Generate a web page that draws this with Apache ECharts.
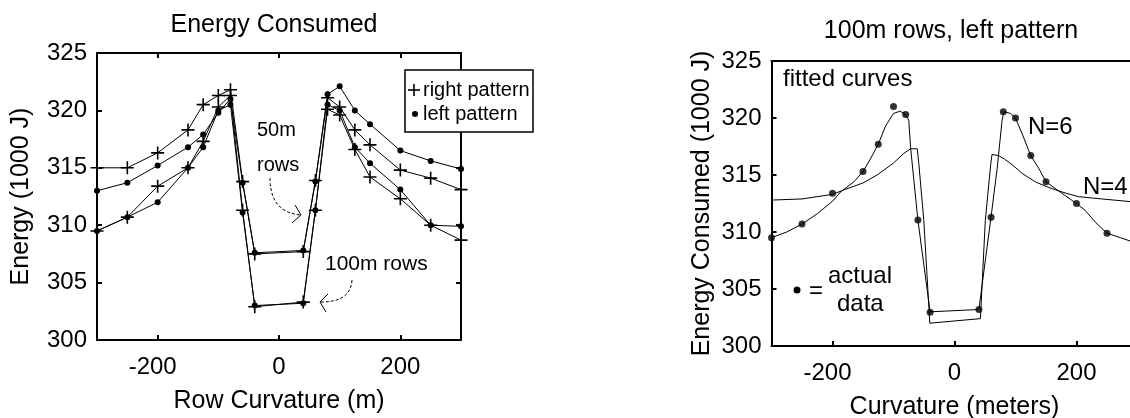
<!DOCTYPE html>
<html>
<head>
<meta charset="utf-8">
<script src="https://cdn.jsdelivr.net/npm/echarts@6/dist/echarts.min.js"></script>
<style>
  html, body { margin: 0; padding: 0; background: #fff; }
  #chart { width: 1130px; height: 418px; }
</style>
</head>
<body>
<div id="chart"></div>
<script>
// Row curvature values (m) at which energy was measured
const curvature = [-300, -250, -200, -150, -125, -100, -80, -60, -40, 40, 60, 80, 100, 125, 150, 200, 250, 300];

// Energy consumed (1000 J), left panel
const right50  = [315.0, 315.0, 316.3, 318.3, 320.5, 321.3, 321.8, 313.8, 307.5, 307.7, 313.9, 321.1, 320.3, 318.3, 317.0, 314.8, 314.1, 313.1];
const left50   = [313.0, 313.7, 315.2, 316.8, 317.9, 319.8, 321.0, 313.7, 307.6, 307.8, 313.8, 321.4, 322.1, 320.0, 318.8, 316.5, 315.6, 314.9];
const right100 = [309.5, 310.7, 313.4, 315.0, 317.3, 320.3, 321.3, 311.3, 302.9, 303.3, 311.3, 320.1, 319.6, 316.6, 314.2, 312.3, 310.0, 308.7];
const left100  = [309.5, 310.7, 312.0, 315.0, 316.8, 320.0, 320.5, 311.1, 303.0, 303.2, 311.3, 320.5, 320.0, 316.8, 315.4, 313.1, 310.0, 309.9];

// Right panel: 100m rows, left pattern (measured)
const actualData = [309.5, 310.7, 313.4, 315.3, 317.7, 321.0, 320.3, 311.05, 302.95, 303.2, 311.3, 320.55, 320.0, 316.7, 314.4, 312.5, 309.9, 308.9];

// Fitted curve, N=6
const fit6X = [-300, -275, -250, -225, -200, -187, -165, -150, -138, -125, -113, -100, -89, -80, -75, -72, -60, -40,
               40, 50, 60, 70, 78, 81, 92, 100, 111, 125, 138, 150, 176, 200, 214, 232, 250, 272, 291, 300];
const fit6Y = [309.5, 310.0, 310.7, 311.6, 312.7, 313.5, 314.4, 315.3, 316.4, 317.7, 319.3, 320.4, 320.6, 320.3, 319.8, 317.4, 311.05, 303.0,
               303.2, 307.3, 311.35, 315.6, 319.8, 320.55, 320.4, 320.0, 318.6, 316.7, 315.6, 314.4, 313.4, 312.5, 311.9, 310.8, 309.9, 309.5, 309.15, 309.0];

// Fitted curve, N=4
const fit4X = [-300, -250, -200, -181, -150, -127, -101, -83, -72, -61, -58.5, -50.3, -42, -40.5,
               42.5, 50.5, 59.5, 61.5, 72.5, 82, 94.5, 112, 132.5, 150, 165.5, 183, 203.5, 241.5, 291.5, 300];
const fit4Y = [312.8, 312.9, 313.3, 313.7, 314.3, 315.0, 316.0, 316.9, 317.3, 317.3, 316.0, 311.0, 303.4, 302.0,
               302.4, 311.0, 316.0, 316.8, 316.7, 316.4, 315.9, 315.1, 314.4, 314.0, 313.7, 313.4, 313.1, 312.9, 312.65, 312.6];

// Axis ticks
const xTicks = [-200, 0, 200];
const yMin = 300, yMax = 325, yStep = 5;

const FONT = '"Liberation Sans", Arial, Helvetica, sans-serif';
const PLUS = 'path://M5.7,0h1.6v5.7h5.7v1.6h-5.7v5.7h-1.6v-5.7h-5.7v-1.6h5.7z';

const zip = (xs, ys) => xs.map((x, i) => [x, ys[i]]);

const chart = echarts.init(document.getElementById('chart'), null, { renderer: 'canvas' });

function xAxisBottom(grid, name, nameGap) {
  return {
    type: 'value', gridIndex: grid, position: 'bottom', min: -300, max: 300,
    axisLine: { show: true, onZero: false, lineStyle: { color: '#000', width: 2 } },
    axisTick: { show: true, inside: true, length: 5, customValues: xTicks, lineStyle: { color: '#000', width: 2 } },
    axisLabel: {
      show: true, customValues: xTicks, margin: 15, color: '#000', fontSize: 24, fontFamily: FONT,
      formatter: v => (v < 0 ? '{neg|' + v + '}' : '' + v),
      rich: { neg: { padding: [0, 10, 0, 0], fontSize: 24, fontFamily: FONT, color: '#000' } }
    },
    splitLine: { show: false },
    name: name, nameLocation: 'middle', nameGap: nameGap,
    nameTextStyle: { color: '#000', fontSize: 25, fontFamily: FONT, verticalAlign: 'top' }
  };
}
function xAxisTop(grid, ticks) {
  return {
    type: 'value', gridIndex: grid, position: 'top', min: -300, max: 300,
    axisLine: { show: true, onZero: false, lineStyle: { color: '#000', width: 2 } },
    axisTick: { show: ticks, inside: true, length: 5, customValues: xTicks, lineStyle: { color: '#000', width: 2 } },
    axisLabel: { show: false }, splitLine: { show: false }
  };
}
function yAxisLeft(grid, name, nameGap) {
  return {
    type: 'value', gridIndex: grid, position: 'left', min: yMin, max: yMax, interval: yStep,
    axisLine: { show: true, onZero: false, lineStyle: { color: '#000', width: 2 } },
    axisTick: { show: true, inside: true, length: 5, lineStyle: { color: '#000', width: 2 } },
    axisLabel: { show: true, margin: 10, color: '#000', fontSize: 24, fontFamily: FONT },
    splitLine: { show: false },
    name: name, nameLocation: 'middle', nameGap: nameGap,
    nameTextStyle: { color: '#000', fontSize: 25, fontFamily: FONT }
  };
}
function yAxisRight(grid) {
  return {
    type: 'value', gridIndex: grid, position: 'right', min: yMin, max: yMax, interval: yStep,
    axisLine: { show: true, onZero: false, lineStyle: { color: '#000', width: 2 } },
    axisTick: { show: true, inside: true, length: 5, lineStyle: { color: '#000', width: 2 } },
    axisLabel: { show: false }, splitLine: { show: false }
  };
}

function lineSeries(xi, yi, data, symbol, size, z) {
  return {
    type: 'line', xAxisIndex: xi, yAxisIndex: yi, data: data,
    symbol: symbol, symbolSize: size, showSymbol: symbol !== 'none', showAllSymbol: true,
    lineStyle: { color: '#000', width: 1 }, itemStyle: { color: '#000' },
    clip: false, silent: true, animation: false, z: z,
    emphasis: { disabled: true }
  };
}

function txt(text, x, y, size, align) {
  return {
    type: 'text', x: x, y: y, z: 100, silent: true,
    style: { text: text, fill: '#000', fontSize: size, fontFamily: FONT, align: align || 'left', verticalAlign: 'middle' }
  };
}

chart.setOption({
  animation: false,
  backgroundColor: '#fff',
  grid: [
    { left: 97, top: 53, width: 364, height: 287, outerBoundsMode: 'none', containLabel: false },
    { left: 771.5, top: 61, width: 366, height: 285, outerBoundsMode: 'none', containLabel: false }
  ],
  xAxis: [
    xAxisBottom(0, 'Row Curvature (m)', 49),
    xAxisTop(0, true),
    xAxisBottom(1, 'Curvature (meters)', 49),
    xAxisTop(1, false)
  ],
  yAxis: [
    yAxisLeft(0, 'Energy (1000 J)', 63),
    yAxisRight(0),
    yAxisLeft(1, 'Energy Consumed (1000 J)', 57),
    yAxisRight(1)
  ],
  series: [
    lineSeries(0, 0, zip(curvature, right50), PLUS, 13, 3),
    lineSeries(0, 0, zip(curvature, left50), 'circle', 6, 3),
    lineSeries(0, 0, zip(curvature, right100), PLUS, 13, 3),
    lineSeries(0, 0, zip(curvature, left100), 'circle', 6, 3),
    lineSeries(2, 2, zip(fit6X, fit6Y), 'none', 0, 2),
    lineSeries(2, 2, zip(fit4X, fit4Y), 'none', 0, 2),
    {
      type: 'scatter', xAxisIndex: 2, yAxisIndex: 2, data: zip(curvature, actualData),
      symbol: 'circle', symbolSize: 7, itemStyle: { color: '#000' },
      clip: false, silent: true, animation: false, z: 4
    }
  ],
  graphic: [
    // titles
    txt('Energy Consumed', 274, 25, 25, 'center'),
    txt('100m rows, left pattern', 951, 31, 25, 'center'),

    // legend box
    { type: 'rect', z: 99, silent: true, shape: { x: 405, y: 70, width: 128, height: 62 },
      style: { fill: '#fff', stroke: '#000', lineWidth: 1.5 } },
    { type: 'line', z: 100, silent: true, shape: { x1: 408, y1: 90, x2: 420, y2: 90 }, style: { stroke: '#000', lineWidth: 1.6 } },
    { type: 'line', z: 100, silent: true, shape: { x1: 414, y1: 84, x2: 414, y2: 96 }, style: { stroke: '#000', lineWidth: 1.6 } },
    txt('right pattern', 423, 90, 20),
    { type: 'circle', z: 100, silent: true, shape: { cx: 415, cy: 114, r: 3 }, style: { fill: '#000' } },
    txt('left pattern', 423, 114, 20),

    // annotations, left panel
    txt('50m', 257, 130, 20),
    txt('rows', 257, 165, 20),
    { type: 'bezierCurve', z: 100, silent: true,
      shape: { x1: 270, y1: 178, cpx1: 270, cpy1: 205, cpx2: 284, cpy2: 213, x2: 300, y2: 215 },
      style: { stroke: '#000', lineWidth: 1, lineDash: [3, 2], fill: null } },
    { type: 'polyline', z: 100, silent: true, shape: { points: [[295, 205], [301, 215], [292, 223]] },
      style: { stroke: '#000', lineWidth: 1, fill: null } },
    txt('100m rows', 325, 264, 21),
    { type: 'bezierCurve', z: 100, silent: true,
      shape: { x1: 352, y1: 280, cpx1: 351, cpy1: 298, cpx2: 336, cpy2: 302, x2: 321, y2: 302 },
      style: { stroke: '#000', lineWidth: 1, lineDash: [3, 2], fill: null } },
    { type: 'polyline', z: 100, silent: true, shape: { points: [[328, 294], [320, 302], [326, 312]] },
      style: { stroke: '#000', lineWidth: 1, fill: null } },

    // annotations, right panel
    txt('fitted curves', 783, 79, 24),
    txt('N=6', 1028, 127, 24),
    txt('N=4', 1083, 187, 24),
    { type: 'circle', z: 100, silent: true, shape: { cx: 797, cy: 290, r: 3.5 }, style: { fill: '#000' } },
    txt('=', 816, 291, 24, 'center'),
    txt('actual', 828, 276, 24),
    txt('data', 837, 304, 24)
  ]
});
</script>
</body>
</html>
